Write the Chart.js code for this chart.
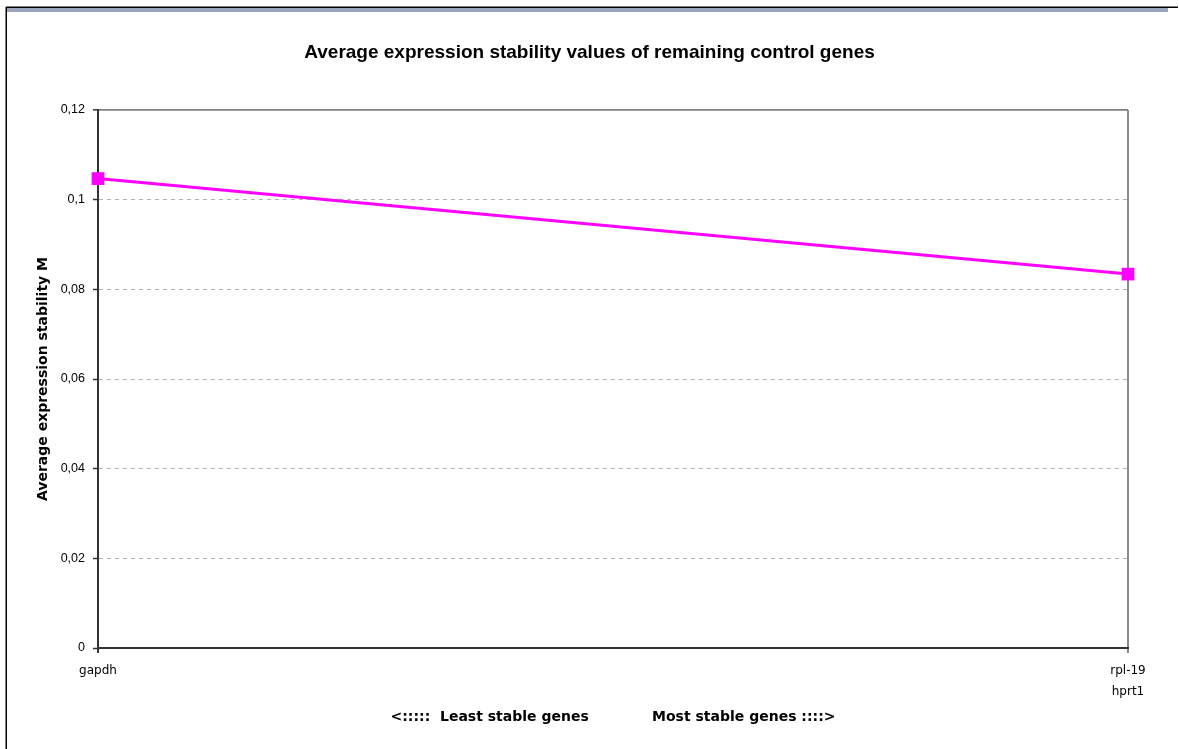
<!DOCTYPE html>
<html>
<head>
<meta charset="utf-8">
<script src="https://cdn.jsdelivr.net/npm/chart.js@4.4.1/dist/chart.umd.min.js"></script>
<style>
  html, body { margin: 0; padding: 0; background: #ffffff; }
  #wrap { width: 1179px; height: 749px; position: relative; }
</style>
</head>
<body>
<div id="wrap"><canvas id="c"></canvas></div>
<script>
// ---- data ----
const categories = ['gapdh', ['rpl-19', 'hprt1']];
const stabilityM = [0.1047, 0.0834];
const yTickLabels = ['0', '0,02', '0,04', '0,06', '0,08', '0,1', '0,12'];
const chartTitle = 'Average expression stability values of remaining control genes';
const yAxisTitle = 'Average expression stability M';
const xAxisTitle = '<:::::  Least stable genes             Most stable genes ::::>';

const framePlugin = {
  id: 'frame',
  beforeDraw(chart) {
    const ctx = chart.ctx;
    ctx.save();
    ctx.fillStyle = '#ffffff';
    ctx.fillRect(0, 0, chart.width, chart.height);
    ctx.fillStyle = '#9aa4bc';
    ctx.fillRect(7, 8, 1161, 4);
    ctx.strokeStyle = '#000000';
    ctx.lineWidth = 1.5;
    ctx.beginPath();
    ctx.moveTo(6, 7.25);
    ctx.lineTo(1178, 7.25);
    ctx.moveTo(6.25, 7);
    ctx.lineTo(6.25, chart.height);
    ctx.stroke();
    ctx.restore();
  }
};

const isTop = (c) => c.tick && c.tick.value >= 0.1199;
const isZero = (c) => c.tick && c.tick.value <= 0.0001;

new Chart(document.getElementById('c'), {
  type: 'line',
  data: {
    labels: categories,
    datasets: [{
      label: 'M',
      data: stabilityM,
      borderColor: '#ff00ff',
      backgroundColor: '#ff00ff',
      borderWidth: 3,
      tension: 0,
      pointStyle: 'rect',
      pointRadius: 9,
      pointHoverRadius: 9,
      pointBorderWidth: 0,
      clip: false,
      fill: false
    }]
  },
  options: {
    responsive: true,
    maintainAspectRatio: false,
    animation: false,
    devicePixelRatio: 1,
    layout: { padding: 0 },
    plugins: {
      legend: { display: false },
      tooltip: { enabled: false },
      title: {
        display: true,
        text: chartTitle,
        color: '#000000',
        font: { family: 'Liberation Sans, Arial, sans-serif', size: 19, weight: 'bold', lineHeight: 1.2 },
        padding: { top: 41, bottom: 46.2 }
      }
    },
    scales: {
      x: {
        type: 'category',
        offset: false,
        afterFit: (s) => { s.height = 101; },
        grid: {
          drawOnChartArea: true,
          color: (c) => (c.index === 1 ? '#8a8a8a' : 'rgba(0,0,0,0)'),
          lineWidth: 2,
          tickLength: 5,
          tickColor: (c) => (c.index === 1 ? '#8a8a8a' : '#333333'),
          tickWidth: 2
        },
        border: { display: true, color: '#333333', width: 2 },
        ticks: {
          color: '#000000',
          font: { family: 'DejaVu Sans, Verdana, sans-serif', size: 12, lineHeight: 1.75 },
          padding: 7,
          maxRotation: 0,
          autoSkip: false
        },
        title: {
          display: true,
          text: xAxisTitle,
          color: '#000000',
          font: { family: 'DejaVu Sans, Verdana, sans-serif', size: 14, weight: 'bold', lineHeight: 1.2 },
          padding: { top: 0, bottom: 23 }
        }
      },
      y: {
        type: 'linear',
        position: 'left',
        min: 0,
        max: 0.12,
        afterFit: (s) => { s.width = 98; },
        ticks: {
          stepSize: 0.02,
          color: '#000000',
          font: { family: 'Liberation Sans, Arial, sans-serif', size: 12.5 },
          padding: 8,
          callback: (v, i) => (yTickLabels[i] !== undefined ? yTickLabels[i] : String(v).replace('.', ','))
        },
        grid: {
          color: (c) => (isZero(c) ? 'rgba(0,0,0,0)' : (isTop(c) ? '#808080' : '#b4b4b4')),
          lineWidth: (c) => (isTop(c) ? 1.7 : 1),
          tickLength: 5,
          tickColor: '#333333',
          tickWidth: 1.5
        },
        border: {
          display: true,
          color: '#333333',
          width: 2,
          dash: (c) => (c.tick && !isTop(c) ? [4, 4] : [])
        },
        title: {
          display: true,
          text: yAxisTitle,
          color: '#000000',
          font: { family: 'DejaVu Sans, Verdana, sans-serif', size: 14, weight: 'bold', lineHeight: 1.2 },
          padding: { top: 35, bottom: 0 }
        }
      },
      yRight: {
        type: 'linear',
        position: 'right',
        display: true,
        afterFit: (s) => { s.width = 51; },
        ticks: { display: false },
        grid: { display: false, drawTicks: false },
        border: { display: false },
        title: { display: false }
      }
    }
  },
  plugins: [framePlugin]
});
</script>
</body>
</html>
